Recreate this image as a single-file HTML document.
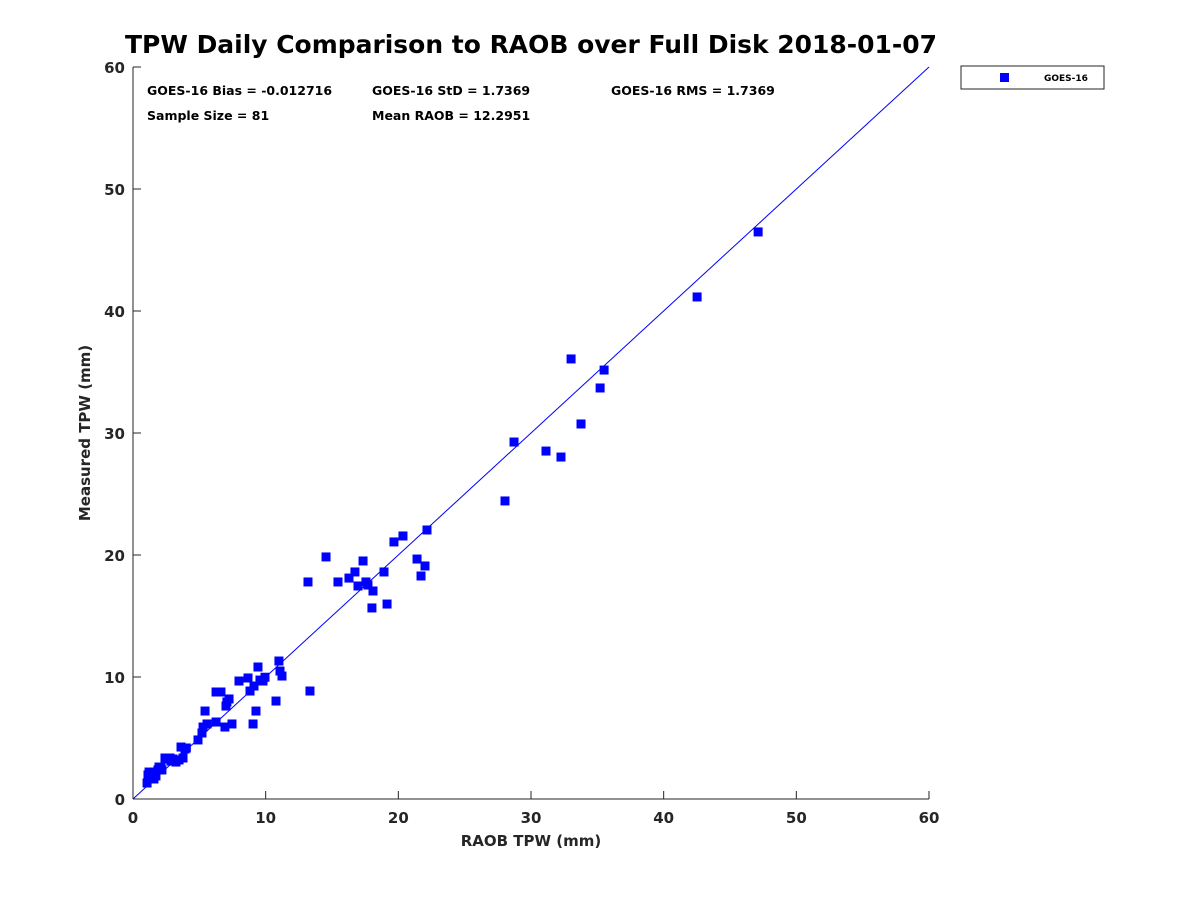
<!DOCTYPE html>
<html><head><meta charset="utf-8"><style>
body{margin:0;background:#fff}
svg text{font-family:"DejaVu Sans","Liberation Sans",sans-serif;font-weight:bold;fill:#262626}
</style></head><body>
<svg id="chart" width="1200" height="900" xmlns="http://www.w3.org/2000/svg">
<rect width="1200" height="900" fill="#fff"/>
<text x="531" y="53" text-anchor="middle" font-size="25" textLength="812" lengthAdjust="spacingAndGlyphs" style="fill:#000">TPW Daily Comparison to RAOB over Full Disk 2018-01-07</text>
<g id="axes"></g>
<g id="marks"></g>
<text x="147" y="95" font-size="12.5" style="fill:#000">GOES-16 Bias = -0.012716</text>
<text x="372" y="95" font-size="12.5" style="fill:#000">GOES-16 StD = 1.7369</text>
<text x="611" y="95" font-size="12.5" style="fill:#000">GOES-16 RMS = 1.7369</text>
<text x="147" y="120" font-size="12.5" style="fill:#000">Sample Size = 81</text>
<text x="372" y="120" font-size="12.5" style="fill:#000">Mean RAOB = 12.2951</text>
<text x="531" y="846" text-anchor="middle" font-size="15">RAOB TPW (mm)</text>
<text transform="translate(90,433) rotate(-90)" text-anchor="middle" font-size="15">Measured TPW (mm)</text>
<g>
<rect x="961" y="66" width="143" height="23" fill="#fff" stroke="#262626" stroke-width="1"/>
<rect x="1000" y="73" width="9" height="9" fill="#0000ff"/>
<text x="1044" y="81" font-size="9" style="fill:#000">GOES-16</text>
</g>
</svg>
<script>
const xTicks=[0,10,20,30,40,50,60];
const yTicks=[0,10,20,30,40,50,60];
const raob=[1.06,1.13,1.21,1.28,1.43,1.66,1.73,1.88,1.96,2.03,2.18,2.41,2.64,2.79,3.01,3.24,3.47,3.62,3.77,3.92,4.9,5.2,5.28,5.43,5.58,6.26,6.26,6.63,6.93,7.01,7.08,7.24,7.46,7.99,8.67,8.82,9.05,9.12,9.27,9.42,9.57,9.8,9.95,10.78,11.0,11.08,11.23,13.34,13.19,14.55,15.45,16.28,16.73,16.96,17.34,17.56,17.71,18.01,18.09,18.92,19.15,19.67,20.35,21.41,21.71,22.01,22.16,28.04,28.72,31.13,32.26,33.02,33.77,35.21,35.51,42.52,47.12,1.58,4.02,2.86,2.11];
const measured=[1.31,1.97,2.21,1.8,2.05,2.21,1.89,2.38,2.62,2.54,2.38,3.36,3.28,3.36,3.28,3.03,3.2,4.26,3.36,4.1,4.84,5.41,5.9,7.21,6.15,6.31,8.77,8.77,5.9,7.62,7.95,8.2,6.15,9.67,9.92,8.85,6.15,9.26,7.21,10.82,9.75,9.67,9.98,8.03,11.31,10.49,10.08,8.85,17.79,19.84,17.79,18.11,18.61,17.46,19.51,17.79,17.54,15.66,17.05,18.61,15.98,21.07,21.56,19.67,18.28,19.1,22.05,24.43,29.26,28.52,28.03,36.07,30.74,33.69,35.16,41.15,46.48,1.64,4.18,3.11,2.54];
const X=v=>133+v*(796/60), Y=v=>799-v*(732/60);
const ns="http://www.w3.org/2000/svg";
const axes=document.getElementById('axes'), marks=document.getElementById('marks');
function mk(tag,attrs,parent){const e=document.createElementNS(ns,tag);for(const k in attrs)e.setAttribute(k,attrs[k]);parent.appendChild(e);return e;}
const xa=mk('line',{x1:X(0),y1:Y(0),x2:X(60),y2:Y(0),stroke:'#262626'},axes);


const ya=mk('line',{x1:X(0),y1:Y(0),x2:X(0),y2:Y(60),stroke:'#262626'},axes);


xTicks.forEach(t=>{
  mk('line',{x1:X(t),y1:Y(0),x2:X(t),y2:Y(0)-8,stroke:'#262626'},axes);
  const tx=mk('text',{x:X(t),y:Y(0)+24,'text-anchor':'middle','font-size':'15'},axes);
  tx.textContent=t;
  
  
});
yTicks.forEach(t=>{
  mk('line',{x1:X(0),y1:Y(t),x2:X(0)+8,y2:Y(t),stroke:'#262626'},axes);
  const tx=mk('text',{x:X(0)-8,y:Y(t)+6,'text-anchor':'end','font-size':'15'},axes);
  tx.textContent=t;
  
  
});
const ref=mk('line',{x1:X(0),y1:Y(0),x2:X(60),y2:Y(60),stroke:'#0000ff','stroke-width':1},marks);


raob.forEach((v,i)=>{
  const r=mk('rect',{x:X(v)-4.5,y:Y(measured[i])-4.5,width:9,height:9,fill:'#0000ff'},marks);
  
  
});
</script>
</body></html>
